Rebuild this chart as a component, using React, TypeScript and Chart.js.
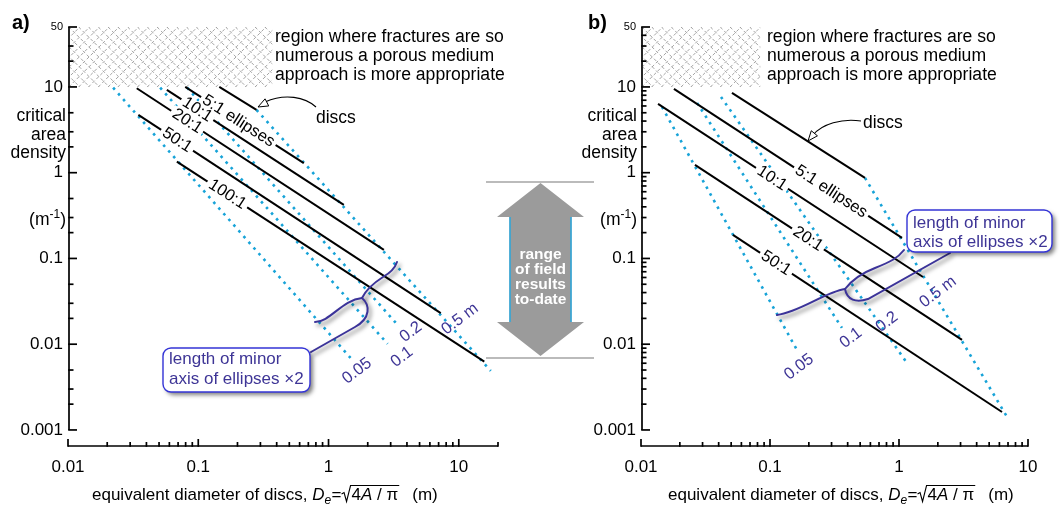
import React, { useEffect, useRef } from 'react';
import { Chart, registerables } from 'chart.js';

Chart.register(...registerables);

const FONT = "'Liberation Sans', Arial, Helvetica, sans-serif";
const CYAN = '#17a3d8';
const INDIGO = '#3e3596';
const BOXBLUE = '#3434d6';

// ---------- axes ----------
const xTickLabelValues = [0.01, 0.1, 1, 10];
const xTickLabels = ['0.01', '0.1', '1', '10'];
const yTickLabelValues = [0.001, 0.01, 0.1, 1, 10, 50];
const yTickLabels = ['0.001', '0.01', '0.1', '1', '10', '50'];
const xDecades = [0.01, 0.1, 1, 10];
const yDecades = [0.001, 0.01, 0.1, 1, 10];
const xMinorMult = [1, 2, 3, 4, 5, 6, 7, 8, 9];
const yMinorMultA = [1, 2, 3, 5];
const yMinorMultB = [1, 2, 3, 4, 5, 6, 7, 8, 9];
const xMaxA = 20;
const xMaxB = 10;
const yMax = 50;
const yMinPlot = 0.00065;
const hatchY = [10, 50];
const hatchXMaxA = 0.37;
const hatchXMaxB = 0.084;
const fieldRange = [0.0069, 0.78];

// ---------- panel a : [diameter (m), critical area density (1/m)] ----------
const aDiscs = [[0.145, 10], [0.28, 5.4]];
const a5 = [[0.0794, 10], [0.646, 1.29]];
const a10 = [[0.0574, 9.23], [1.31, 0.421]];
const a20 = [[0.0337, 9.66], [2.66, 0.1256]];
const a50 = [[0.0347, 4.72], [7.27, 0.023]];
const a100 = [[0.0685, 1.345], [15.7, 0.00626]];
const aMinor005 = [[0.0222, 9.8], [1.476, 0.00692]];
const aMinor01 = [[0.051, 9.8], [2.84, 0.0101]];
const aMinor02 = [[0.0822, 9.8], [3.45, 0.0163]];
const aMinor05 = [[0.28, 5.4], [17.6, 0.00488]];

// ---------- panel b ----------
const bDiscs = [[0.0507, 8.51], [0.545, 0.869]];
const b5 = [[0.018, 9.48], [1.055, 0.1734]];
const b10 = [[0.01355, 6.34], [1.535, 0.0608]];
const b20 = [[0.0262, 1.231], [3.08, 0.01122]];
const b50 = [[0.0516, 0.188], [6.29, 0.00162]];
const bMinor005 = [[0.01455, 5.84], [0.165, 0.00813]];
const bMinor01 = [[0.0272, 6.51], [0.361, 0.0155]];
const bMinor02 = [[0.0417, 7.65], [1.153, 0.00604]];
const bMinor05 = [[0.545, 0.869], [6.88, 0.00142]];

const near = (v: number, w: number) => Math.abs(Math.log10(v) - Math.log10(w)) < 1e-6;

function tickList(decades: number[], mult: number[], max: number) {
  const out: number[] = [];
  decades.forEach((d) => mult.forEach((m) => {
    const v = +(d * m).toPrecision(6);
    if (v <= max * 1.000001) out.push(v);
  }));
  if (!out.some((v) => near(v, max))) out.push(max);
  return out;
}

type Seg = { m: number[]; c: number[][]; l?: number[] };

const panelA = {
  letter: 'a)', letterX: 12, xMax: xMaxA, padL: 0, padR: 565,
  yMinor: yMinorMultA, hatchXMax: hatchXMaxA, regionX: 275,
  black: [aDiscs, a5, a10, a20, a50, a100],
  cyan: [aMinor005, aMinor01, aMinor02, aMinor05],
  lineLabels: [
    { idx: 1, text: '5:1 ellipses', t: 0.448 },
    { idx: 2, text: '10:1', t: 0.172 },
    { idx: 3, text: '20:1', t: 0.204 },
    { idx: 4, text: '50:1', t: 0.128 },
    { idx: 5, text: '100:1', t: 0.164 },
  ],
  cyanLabels: [
    { text: '0.05', x: 357, y: 371 },
    { text: '0.1', x: 402, y: 357 },
    { text: '0.2', x: 411, y: 332 },
    { text: '0.5 m', x: 460, y: 319 },
  ],
  discs: { tx: 316, ty: 123, path: [316, 107, 305, 97, 285, 93, 265, 102], tip: [258, 107] },
  box: { x: 163, y: 348, w: 147, h: 44, tx: 169, ty1: 364, ty2: 384 },
  brace: [
    { m: [315, 322], c: [[330, 322, 342, 300, 362, 298]] },
    { m: [362, 298], c: [[366, 290, 372, 284, 383, 277], [390, 273, 395, 268, 397, 262]] },
    { m: [362, 298], c: [[370, 305, 371, 318, 355, 327]], l: [311, 352] },
  ] as Seg[],
  titleX: 92, yTitleRight: 66, arrow: true,
};

const panelB = {
  letter: 'b)', letterX: 588, xMax: xMaxB, padL: 573, padR: 35,
  yMinor: yMinorMultB, hatchXMax: hatchXMaxB, regionX: 767,
  black: [bDiscs, b5, b10, b20, b50],
  cyan: [bMinor005, bMinor01, bMinor02, bMinor05],
  lineLabels: [
    { idx: 1, text: '5:1 ellipses', t: 0.689 },
    { idx: 2, text: '10:1', t: 0.43 },
    { idx: 3, text: '20:1', t: 0.423 },
    { idx: 4, text: '50:1', t: 0.16 },
  ],
  cyanLabels: [
    { text: '0.05', x: 799, y: 367 },
    { text: '0.1', x: 851, y: 338 },
    { text: '0.2', x: 887, y: 322 },
    { text: '0.5 m', x: 938, y: 292 },
  ],
  discs: { tx: 863, ty: 128, path: [861, 121, 842, 118, 822, 124, 813, 135], tip: [808, 141] },
  box: { x: 907, y: 210, w: 145, h: 42, tx: 913, ty1: 228, ty2: 247 },
  brace: [
    { m: [777, 315], c: [[800, 312, 825, 292, 845, 289]] },
    { m: [845, 289], c: [[852, 280, 862, 273, 875, 268], [890, 262, 898, 258, 904, 250]] },
    { m: [845, 289], c: [[847, 300, 856, 303, 868, 299]], l: [950, 253] },
  ] as Seg[],
  titleX: 668, yTitleRight: 637, arrow: false,
};

type Panel = typeof panelA;

function arrowHead(ctx: CanvasRenderingContext2D, fx: number, fy: number, tx: number, ty: number) {
  const dx = tx - fx, dy = ty - fy;
  const L = Math.hypot(dx, dy) || 1;
  const ux = dx / L, uy = dy / L;
  const bx = tx - ux * 10, by = ty - uy * 10;
  ctx.beginPath();
  ctx.moveTo(tx, ty);
  ctx.lineTo(bx - uy * 4, by + ux * 4);
  ctx.lineTo(bx + uy * 4, by - ux * 4);
  ctx.closePath();
  ctx.fillStyle = '#fff';
  ctx.fill();
  ctx.lineWidth = 1;
  ctx.strokeStyle = '#000';
  ctx.stroke();
}

function drawXTitle(ctx: CanvasRenderingContext2D, x: number, y: number) {
  ctx.fillStyle = '#000';
  ctx.textAlign = 'left';
  ctx.textBaseline = 'alphabetic';
  let cx = x;
  ctx.font = `17px ${FONT}`;
  const t1 = 'equivalent diameter of discs, ';
  ctx.fillText(t1, cx, y);
  cx += ctx.measureText(t1).width;
  ctx.font = `italic 17px ${FONT}`;
  ctx.fillText('D', cx, y);
  cx += ctx.measureText('D').width;
  ctx.font = `italic 12px ${FONT}`;
  ctx.fillText('e', cx, y + 4);
  cx += ctx.measureText('e').width + 0.5;
  ctx.font = `17px ${FONT}`;
  ctx.fillText('=', cx, y);
  cx += ctx.measureText('=').width;
  const rx = cx;
  cx += 10;
  ctx.fillText('4', cx, y);
  cx += ctx.measureText('4').width;
  ctx.font = `italic 17px ${FONT}`;
  ctx.fillText('A', cx, y);
  cx += ctx.measureText('A').width;
  ctx.font = `17px ${FONT}`;
  ctx.fillText(' / \u03c0', cx, y);
  cx += ctx.measureText(' / \u03c0').width;
  const endX = cx + 1;
  ctx.beginPath();
  ctx.lineWidth = 1.1;
  ctx.strokeStyle = '#000';
  ctx.moveTo(rx, y - 6);
  ctx.lineTo(rx + 2.5, y - 7.5);
  ctx.lineTo(rx + 5, y + 1.5);
  ctx.lineTo(rx + 9, y - 14.5);
  ctx.lineTo(endX, y - 14.5);
  ctx.stroke();
  ctx.fillText('(m)', endX + 13, y);
}

function makePlugin(p: Panel) {
  return {
    id: 'panel' + p.letter,
    beforeDatasetsDraw(chart: any) {
      const ctx: CanvasRenderingContext2D = chart.ctx;
      const xs = chart.scales.x, ys = chart.scales.y;
      const hx0 = xs.getPixelForValue(0.01) + 2;
      const hx1 = xs.getPixelForValue(p.hatchXMax);
      const hy0 = ys.getPixelForValue(hatchY[1]);
      const hy1 = ys.getPixelForValue(hatchY[0]);
      ctx.save();
      ctx.beginPath();
      ctx.rect(hx0, hy0, hx1 - hx0, hy1 - hy0);
      ctx.clip();
      ctx.strokeStyle = '#959595';
      ctx.lineWidth = 0.85;
      ctx.setLineDash([3.2, 2.4]);
      const H = hy1 - hy0;
      const P = 9.8;
      for (let k = hx0 - H; k < hx1 + H; k += P) {
        ctx.beginPath(); ctx.moveTo(k, hy1); ctx.lineTo(k + H, hy0); ctx.stroke();
        ctx.beginPath(); ctx.moveTo(k, hy0); ctx.lineTo(k + H, hy1); ctx.stroke();
      }
      ctx.restore();
    },
    afterDatasetsDraw(chart: any) {
      const ctx: CanvasRenderingContext2D = chart.ctx;
      const xs = chart.scales.x, ys = chart.scales.y;
      ctx.save();
      ctx.setLineDash([]);
      // labels along black lines
      p.lineLabels.forEach((lb) => {
        const pts = p.black[lb.idx];
        const x1 = xs.getPixelForValue(pts[0][0]), y1 = ys.getPixelForValue(pts[0][1]);
        const x2 = xs.getPixelForValue(pts[1][0]), y2 = ys.getPixelForValue(pts[1][1]);
        const cx = x1 + lb.t * (x2 - x1), cy = y1 + lb.t * (y2 - y1);
        const ang = Math.atan2(y2 - y1, x2 - x1);
        ctx.save();
        ctx.translate(cx, cy);
        ctx.rotate(ang);
        ctx.font = `16.5px ${FONT}`;
        const w = ctx.measureText(lb.text).width;
        ctx.fillStyle = '#fff';
        ctx.fillRect(-w / 2 - 3, -7, w + 6, 14);
        ctx.fillStyle = '#000';
        ctx.textAlign = 'center';
        ctx.textBaseline = 'middle';
        ctx.fillText(lb.text, 0, 0);
        ctx.restore();
      });
      // labels of minor-axis lines
      p.cyanLabels.forEach((lb) => {
        ctx.save();
        ctx.translate(lb.x, lb.y);
        ctx.rotate(-37 * Math.PI / 180);
        ctx.font = `16.5px ${FONT}`;
        ctx.fillStyle = INDIGO;
        ctx.textAlign = 'center';
        ctx.textBaseline = 'middle';
        ctx.fillText(lb.text, 0, 0);
        ctx.restore();
      });
      // discs pointer
      const d = p.discs;
      ctx.font = `17.5px ${FONT}`;
      ctx.fillStyle = '#000';
      ctx.textAlign = 'left';
      ctx.textBaseline = 'alphabetic';
      ctx.fillText('discs', d.tx, d.ty);
      ctx.beginPath();
      ctx.lineWidth = 1.1;
      ctx.strokeStyle = '#000';
      ctx.moveTo(d.path[0], d.path[1]);
      ctx.bezierCurveTo(d.path[2], d.path[3], d.path[4], d.path[5], d.path[6], d.path[7]);
      ctx.stroke();
      arrowHead(ctx, d.path[4], d.path[5], d.tip[0], d.tip[1]);
      // braces
      ctx.save();
      ctx.shadowColor = 'rgba(0,0,0,0.55)';
      ctx.shadowBlur = 4;
      ctx.shadowOffsetX = 2.5;
      ctx.shadowOffsetY = 3;
      ctx.strokeStyle = '#3b3399';
      ctx.lineWidth = 2;
      ctx.lineCap = 'round';
      p.brace.forEach((s) => {
        ctx.beginPath();
        ctx.moveTo(s.m[0], s.m[1]);
        s.c.forEach((c) => ctx.bezierCurveTo(c[0], c[1], c[2], c[3], c[4], c[5]));
        if (s.l) ctx.lineTo(s.l[0], s.l[1]);
        ctx.stroke();
      });
      ctx.restore();
      // callout box
      const b = p.box;
      const rr = (x: number, y: number, w: number, h: number, r: number) => {
        ctx.beginPath();
        ctx.moveTo(x + r, y);
        ctx.arcTo(x + w, y, x + w, y + h, r);
        ctx.arcTo(x + w, y + h, x, y + h, r);
        ctx.arcTo(x, y + h, x, y, r);
        ctx.arcTo(x, y, x + w, y, r);
        ctx.closePath();
      };
      ctx.save();
      ctx.shadowColor = 'rgba(0,0,0,0.5)';
      ctx.shadowBlur = 4;
      ctx.shadowOffsetX = 3;
      ctx.shadowOffsetY = 3;
      rr(b.x, b.y, b.w, b.h, 8);
      ctx.fillStyle = '#fff';
      ctx.fill();
      ctx.restore();
      rr(b.x, b.y, b.w, b.h, 8);
      ctx.lineWidth = 1.4;
      ctx.strokeStyle = BOXBLUE;
      ctx.stroke();
      ctx.font = `17px ${FONT}`;
      ctx.fillStyle = INDIGO;
      ctx.textAlign = 'left';
      ctx.fillText('length of minor', b.tx, b.ty1);
      ctx.fillText('axis of ellipses \u00d72', b.tx, b.ty2);
      ctx.restore();
    },
    afterDraw(chart: any) {
      const ctx: CanvasRenderingContext2D = chart.ctx;
      const xs = chart.scales.x, ys = chart.scales.y;
      const ca = chart.chartArea;
      ctx.save();
      ctx.setLineDash([]);
      ctx.strokeStyle = '#000';
      ctx.lineWidth = 1.7;
      const ax = ca.left + 1;
      const yTop = ys.getPixelForValue(yMax);
      const yBot = ys.getPixelForValue(0.001);
      ctx.beginPath(); ctx.moveTo(ax, yTop); ctx.lineTo(ax, yBot); ctx.stroke();
      ys.ticks.forEach((t: any) => {
        if (t.value < 0.001 * 0.999) return;
        const py = ys.getPixelForValue(t.value);
        const major = yTickLabelValues.some((v) => near(v, t.value));
        ctx.beginPath(); ctx.moveTo(ax - 0.8, py); ctx.lineTo(ax + (major ? 8 : 4.5), py); ctx.stroke();
      });
      const by = ca.bottom;
      ctx.beginPath(); ctx.moveTo(xs.left, by); ctx.lineTo(xs.right, by); ctx.stroke();
      xs.ticks.forEach((t: any) => {
        const px = xs.getPixelForValue(t.value);
        const major = xTickLabelValues.some((v) => near(v, t.value));
        ctx.beginPath(); ctx.moveTo(px, by + 0.8); ctx.lineTo(px, by - (major ? 7 : 4)); ctx.stroke();
      });
      // y title
      const rx = p.yTitleRight;
      ctx.fillStyle = '#000';
      ctx.font = `17.5px ${FONT}`;
      ctx.textAlign = 'right';
      ctx.textBaseline = 'alphabetic';
      ctx.fillText('critical', rx, 121);
      ctx.fillText('area', rx, 139.5);
      ctx.fillText('density', rx, 158);
      ctx.textAlign = 'left';
      const w1 = ctx.measureText('(m').width;
      const w3 = ctx.measureText(')').width;
      ctx.font = `12px ${FONT}`;
      const w2 = ctx.measureText('-1').width;
      let sx = rx - (w1 + w2 + w3);
      ctx.font = `17.5px ${FONT}`;
      ctx.fillText('(m', sx, 225); sx += w1;
      ctx.font = `12px ${FONT}`;
      ctx.fillText('-1', sx, 218); sx += w2;
      ctx.font = `17.5px ${FONT}`;
      ctx.fillText(')', sx, 225);
      // x title
      drawXTitle(ctx, p.titleX, 500);
      // panel letter
      ctx.font = `bold 20px ${FONT}`;
      ctx.textAlign = 'left';
      ctx.fillStyle = '#000';
      ctx.fillText(p.letter, p.letterX, 29);
      // region text
      ctx.font = `17.6px ${FONT}`;
      ctx.fillText('region where fractures are so', p.regionX, 41.5);
      ctx.fillText('numerous a porous medium', p.regionX, 60.5);
      ctx.fillText('approach is more appropriate', p.regionX, 79.5);
      // field range arrow
      if (p.arrow) {
        const t = ys.getPixelForValue(fieldRange[1]);
        const bt = ys.getPixelForValue(fieldRange[0]);
        ctx.strokeStyle = '#a4a4a4';
        ctx.lineWidth = 1.6;
        ctx.beginPath(); ctx.moveTo(486, t); ctx.lineTo(594, t); ctx.stroke();
        ctx.beginPath(); ctx.moveTo(486, bt); ctx.lineTo(594, bt); ctx.stroke();
        const cx = 540.5, hw = 43.5, sw = 31, hh = 34;
        ctx.beginPath();
        ctx.moveTo(cx, t + 1);
        ctx.lineTo(cx + hw, t + 1 + hh);
        ctx.lineTo(cx + sw, t + 1 + hh);
        ctx.lineTo(cx + sw, bt - 2 - hh);
        ctx.lineTo(cx + hw, bt - 2 - hh);
        ctx.lineTo(cx, bt - 2);
        ctx.lineTo(cx - hw, bt - 2 - hh);
        ctx.lineTo(cx - sw, bt - 2 - hh);
        ctx.lineTo(cx - sw, t + 1 + hh);
        ctx.lineTo(cx - hw, t + 1 + hh);
        ctx.closePath();
        ctx.fillStyle = '#9b9b9b';
        ctx.fill();
        ctx.strokeStyle = '#2aa7dc';
        ctx.lineWidth = 1.5;
        ctx.beginPath(); ctx.moveTo(cx - sw + 0.5, t + 1 + hh); ctx.lineTo(cx - sw + 0.5, bt - 2 - hh); ctx.stroke();
        ctx.beginPath(); ctx.moveTo(cx + sw - 0.5, t + 1 + hh); ctx.lineTo(cx + sw - 0.5, bt - 2 - hh); ctx.stroke();
        ctx.fillStyle = '#fff';
        ctx.font = `bold 15.5px ${FONT}`;
        ctx.textAlign = 'center';
        ['range', 'of field', 'results', 'to-date'].forEach((s, i) => ctx.fillText(s, cx, 259 + i * 15));
      }
      ctx.restore();
    },
  };
}

function buildConfig(p: Panel): any {
  const datasets: any[] = [];
  p.cyan.forEach((pts) => datasets.push({
    data: pts.map(([x, y]) => ({ x, y })), borderColor: CYAN, borderWidth: 2.6,
    borderDash: [2.6, 5], pointRadius: 0, fill: false, tension: 0, order: 2,
  }));
  p.black.forEach((pts) => datasets.push({
    data: pts.map(([x, y]) => ({ x, y })), borderColor: '#000', borderWidth: 2,
    pointRadius: 0, fill: false, tension: 0, order: 1,
  }));
  const xTicks = tickList(xDecades, xMinorMult, p.xMax);
  const yTicks = tickList(yDecades, p.yMinor, yMax);
  return {
    type: 'line',
    data: { datasets },
    options: {
      animation: false,
      responsive: false,
      maintainAspectRatio: false,
      devicePixelRatio: 1,
      events: [],
      layout: { padding: { left: p.padL, right: p.padR, top: 27, bottom: 0 } },
      plugins: { legend: { display: false }, tooltip: { enabled: false } },
      scales: {
        x: {
          type: 'logarithmic', position: 'bottom', min: 0.01, max: p.xMax,
          grid: { display: false, drawTicks: false }, border: { display: false },
          afterBuildTicks: (s: any) => { s.ticks = xTicks.map((v) => ({ value: v })); },
          afterFit: (s: any) => { s.height = 61; },
          ticks: {
            autoSkip: false, maxRotation: 0, minRotation: 0, padding: 11, color: '#000',
            font: { size: 17, family: FONT },
            callback: (v: number) => {
              const i = xTickLabelValues.findIndex((w) => near(w, v));
              return i >= 0 ? xTickLabels[i] : '';
            },
          },
        },
        y: {
          type: 'logarithmic', position: 'left', min: yMinPlot, max: yMax,
          grid: { display: false, drawTicks: false }, border: { display: false },
          afterBuildTicks: (s: any) => { s.ticks = yTicks.map((v) => ({ value: v })); },
          afterFit: (s: any) => { s.width = 68; },
          ticks: {
            autoSkip: false, padding: 5, color: '#000',
            font: (c: any) => ({ size: c.tick && near(c.tick.value, 50) ? 11 : 17, family: FONT }),
            callback: (v: number) => {
              const i = yTickLabelValues.findIndex((w) => near(w, v));
              return i >= 0 ? yTickLabels[i] : '';
            },
          },
        },
      },
    },
    plugins: [makePlugin(p)],
  };
}

export default function App() {
  const refA = useRef<HTMLCanvasElement>(null);
  const refB = useRef<HTMLCanvasElement>(null);
  useEffect(() => {
    const ca = new Chart(refA.current as HTMLCanvasElement, buildConfig(panelA));
    const cb = new Chart(refB.current as HTMLCanvasElement, buildConfig(panelB as Panel));
    return () => { ca.destroy(); cb.destroy(); };
  }, []);
  const cs: React.CSSProperties = { position: 'absolute', left: 0, top: 0, width: 1063, height: 507 };
  return (
    <div style={{ position: 'fixed', left: 0, top: 0, width: 1063, height: 507, background: '#fff' }}>
      <canvas ref={refA} width={1063} height={507} style={cs} />
      <canvas ref={refB} width={1063} height={507} style={cs} />
    </div>
  );
}
